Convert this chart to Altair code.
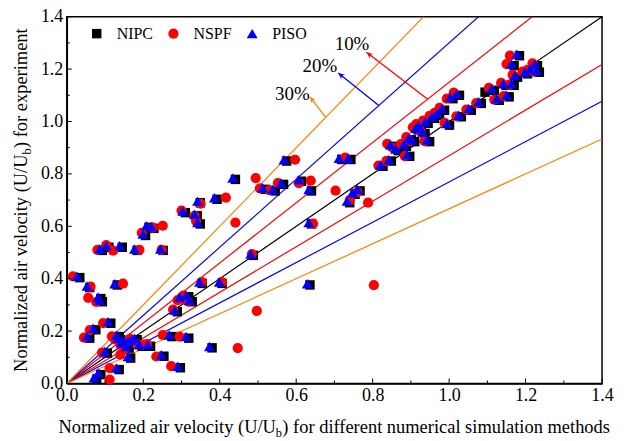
import math
import altair as alt
import pandas as pd

W, H = 537, 368
FONT = "Liberation Serif"

# ---------------- data ----------------
series_names = ["NIPC", "NSPF", "PISO"]
series_colors = ["#000000", "#FF0000", "#0000FF"]
series_shapes = ["square", "circle", "triangle-up"]
series_sizes = [90, 120, 150]

piso_x = [0.027, 0.053, 0.082, 0.086, 0.125, 0.086, 0.103, 0.138, 0.177, 0.199,
          0.208, 0.221, 0.245, 0.303, 0.334, 0.342, 0.342, 0.386, 0.434, 0.512,
          0.538, 0.560, 0.568, 0.607, 0.633, 0.712, 0.736, 0.733, 0.747, 0.760,
          0.347, 0.399, 0.295, 0.312, 0.321, 0.282, 0.312, 0.268, 0.247, 0.290,
          0.212, 0.373, 0.481, 0.629, 0.633, 0.053, 0.069, 0.108, 0.099, 0.130,
          0.071, 0.082, 0.134, 0.143, 0.156, 0.169, 0.177, 0.160, 0.130, 0.190,
          0.147, 0.160, 0.820, 0.842, 0.846, 0.881, 0.890, 0.903, 0.942, 0.912,
          0.920, 0.938, 0.955, 0.968, 0.981, 0.994, 1.003, 1.020, 1.025, 1.051,
          1.077, 1.111, 1.124, 1.150, 1.142, 1.163, 1.172, 1.198, 1.211, 1.229,
          1.224, 1.163, 1.177, 0.894, 0.860, 0.930]
piso_y = [0.409, 0.372, 0.330, 0.318, 0.381, 0.513, 0.526, 0.526, 0.513, 0.570,
          0.602, 0.598, 0.513, 0.658, 0.646, 0.614, 0.696, 0.709, 0.784, 0.747,
          0.740, 0.765, 0.854, 0.778, 0.740, 0.860, 0.860, 0.696, 0.728, 0.740,
          0.387, 0.387, 0.330, 0.337, 0.318, 0.280, 0.179, 0.185, 0.110, 0.066,
          0.148, 0.141, 0.494, 0.381, 0.614, 0.179, 0.211, 0.236, 0.122, 0.059,
          0.022, 0.040, 0.173, 0.154, 0.141, 0.166, 0.173, 0.103, 0.185, 0.148,
          0.166, 0.160, 0.834, 0.854, 0.911, 0.911, 0.873, 0.929, 0.929, 0.974,
          0.986, 0.999, 1.018, 1.030, 1.049, 0.992, 1.093, 1.106, 1.024, 1.049,
          1.075, 1.125, 1.087, 1.100, 1.144, 1.144, 1.175, 1.188, 1.200, 1.194,
          1.219, 1.219, 1.257, 0.936, 0.895, 0.960]

nipc_x = [0.034, 0.060, 0.089, 0.093, 0.132, 0.093, 0.110, 0.145, 0.184, 0.206,
          0.215, 0.228, 0.252, 0.310, 0.341, 0.349, 0.349, 0.393, 0.441, 0.519,
          0.545, 0.567, 0.575, 0.614, 0.640, 0.719, 0.743, 0.740, 0.754, 0.767,
          0.354, 0.406, 0.302, 0.319, 0.328, 0.289, 0.319, 0.275, 0.254, 0.297,
          0.219, 0.380, 0.488, 0.636, 0.640, 0.060, 0.076, 0.115, 0.106, 0.137,
          0.078, 0.089, 0.141, 0.150, 0.163, 0.176, 0.184, 0.167, 0.137, 0.197,
          0.154, 0.167, 0.827, 0.849, 0.853, 0.888, 0.897, 0.910, 0.949, 0.919,
          0.927, 0.945, 0.962, 0.975, 0.988, 1.001, 1.010, 1.027, 1.032, 1.058,
          1.084, 1.118, 1.131, 1.157, 1.149, 1.170, 1.179, 1.205, 1.218, 1.236,
          1.231, 1.170, 1.184, 0.901, 0.867, 0.937, 1.094]
nipc_y = [0.404, 0.366, 0.324, 0.312, 0.376, 0.508, 0.520, 0.520, 0.508, 0.565,
          0.596, 0.592, 0.508, 0.652, 0.640, 0.609, 0.690, 0.703, 0.779, 0.741,
          0.735, 0.760, 0.849, 0.772, 0.735, 0.855, 0.855, 0.690, 0.722, 0.735,
          0.382, 0.382, 0.324, 0.331, 0.312, 0.274, 0.173, 0.179, 0.104, 0.060,
          0.142, 0.136, 0.489, 0.376, 0.609, 0.173, 0.205, 0.230, 0.116, 0.053,
          0.016, 0.034, 0.167, 0.148, 0.135, 0.160, 0.167, 0.097, 0.179, 0.142,
          0.160, 0.154, 0.829, 0.849, 0.905, 0.905, 0.867, 0.923, 0.923, 0.968,
          0.980, 0.993, 1.012, 1.024, 1.043, 0.986, 1.087, 1.100, 1.018, 1.043,
          1.069, 1.119, 1.081, 1.094, 1.138, 1.138, 1.169, 1.182, 1.194, 1.188,
          1.213, 1.213, 1.251, 0.930, 0.889, 0.954, 1.112]

nspf_x = [0.016, 0.062, 0.056, 0.077, 0.147, 0.080, 0.103, 0.121, 0.190, 0.196,
          0.225, 0.251, 0.248, 0.300, 0.334, 0.338, 0.350, 0.416, 0.494, 0.505,
          0.530, 0.552, 0.597, 0.607, 0.638, 0.703, 0.728, 0.740, 0.760, 0.788,
          0.353, 0.405, 0.290, 0.305, 0.316, 0.278, 0.295, 0.251, 0.234, 0.273,
          0.199, 0.447, 0.484, 0.497, 0.441, 0.644, 0.803, 0.112, 0.045, 0.060,
          0.095, 0.092, 0.112, 0.126, 0.140, 0.150, 0.165, 0.118, 0.183, 0.140,
          0.210, 0.815, 0.836, 0.838, 0.874, 0.884, 0.897, 0.936, 0.905, 0.914,
          0.932, 0.949, 0.962, 0.975, 0.988, 0.994, 1.012, 1.019, 1.045, 1.071,
          1.104, 1.118, 1.143, 1.136, 1.157, 1.166, 1.192, 1.205, 1.222, 1.218,
          1.150, 1.159, 0.888, 0.855, 0.925]
nspf_y = [0.409, 0.370, 0.327, 0.311, 0.381, 0.510, 0.528, 0.507, 0.510, 0.575,
          0.595, 0.602, 0.510, 0.660, 0.640, 0.620, 0.686, 0.709, 0.784, 0.745,
          0.738, 0.765, 0.854, 0.765, 0.774, 0.736, 0.862, 0.700, 0.730, 0.690,
          0.387, 0.387, 0.318, 0.335, 0.313, 0.282, 0.179, 0.185, 0.103, 0.066,
          0.148, 0.135, 0.494, 0.277, 0.614, 0.610, 0.375, 0.015, 0.175, 0.204,
          0.230, 0.118, 0.059, 0.168, 0.150, 0.130, 0.170, 0.180, 0.150, 0.110,
          0.150, 0.832, 0.850, 0.915, 0.914, 0.868, 0.925, 0.925, 0.978, 0.990,
          1.003, 1.021, 1.033, 1.052, 0.995, 1.087, 1.110, 1.020, 1.045, 1.070,
          1.128, 1.083, 1.097, 1.147, 1.140, 1.178, 1.190, 1.197, 1.190, 1.222,
          1.219, 1.251, 0.940, 0.898, 0.963]

# reference lines y = k x
line_slopes = [1.0, 1.15, 1 / 1.15, 1.3, 1 / 1.3, 1.5, 1 / 1.5]
line_colors = ["#000000", "#FF0000", "#FF0000", "#0000FF", "#0000FF", "#FF8000", "#FF8000"]

# arrows (start on the upper line, end near the label)
arrow_x0 = [0.944, 0.816, 0.677]
arrow_y0 = [1.085, 1.061, 1.016]
arrow_x1 = [0.784, 0.710, 0.636]
arrow_y1 = [1.264, 1.185, 1.094]
arrow_colors = ["#FF0000", "#0000FF", "#FF8000"]

label_text = ["10%", "20%", "30%"]
label_x = [0.746, 0.662, 0.590]
label_y = [1.296, 1.212, 1.104]

major_ticks = [0.0, 0.2, 0.4, 0.6, 0.8, 1.0, 1.2, 1.4]
minor_ticks = [0.1, 0.3, 0.5, 0.7, 0.9, 1.1, 1.3]

# axis titles (with subscript b)
xt_before = "Normalized air velocity (U/U"
xt_after = ") for different numerical simulation methods"
yt_before = "Normalized air velocity (U/U"
yt_after = ") for experiment"
sub_text = "b"

# ---------------- build ----------------
xs = alt.Scale(domain=[0, 1.4], nice=False, zero=False)
ys = alt.Scale(domain=[0, 1.4], nice=False, zero=False)

x_axis = alt.Axis(values=major_ticks, format=".1f", ticks=False, labelPadding=3,
                  labelFlush=False, title=None)
y_axis = alt.Axis(values=major_ticks, format=".1f", ticks=False, labelPadding=4,
                  labelFlush=False, title=None)


def X(field="x"):
    return alt.X(f"{field}:Q", scale=xs, axis=x_axis)


def Y(field="y"):
    return alt.Y(f"{field}:Q", scale=ys, axis=y_axis)


rows = []
for name, xx, yy in [("NIPC", nipc_x, nipc_y), ("NSPF", nspf_x, nspf_y), ("PISO", piso_x, piso_y)]:
    for a, b in zip(xx, yy):
        rows.append({"x": a, "y": b, "series": name})
pts = pd.DataFrame(rows)

layers = []

# reference lines
for k, c in zip(line_slopes, line_colors):
    ldf = pd.DataFrame({"x": [0.0, 1.4], "y": [0.0, 1.4 * k]})
    layers.append(
        alt.Chart(ldf).mark_line(color=c, strokeWidth=1.2, clip=True).encode(x=X(), y=Y())
    )

# scatter points
leg = alt.Legend(title=None, orient="none", legendX=22, legendY=9, direction="horizontal")
points = alt.Chart(pts).transform_calculate(
    order="datum.series == 'NIPC' ? 0 : (datum.series == 'NSPF' ? 1 : 2)"
).mark_point(filled=True, opacity=1, strokeWidth=0).encode(
    x=X(), y=Y(),
    color=alt.Color("series:N", scale=alt.Scale(domain=series_names, range=series_colors), legend=leg),
    shape=alt.Shape("series:N", scale=alt.Scale(domain=series_names, range=series_shapes), legend=leg),
    size=alt.Size("series:N", scale=alt.Scale(domain=series_names, range=series_sizes), legend=leg),
    order=alt.Order("order:Q"),
)
layers.append(points)

# arrows
arrow_path = "M0,0L-0.9,2L0,1.4L0.9,2Z"
for x0, y0, x1, y1, c in zip(arrow_x0, arrow_y0, arrow_x1, arrow_y1, arrow_colors):
    seg = pd.DataFrame({"x": [x0], "y": [y0], "x2": [x1], "y2": [y1]})
    layers.append(
        alt.Chart(seg).mark_rule(color=c, strokeWidth=1.3).encode(
            x=X(), y=Y(), x2="x2:Q", y2="y2:Q")
    )
    dxp = (x1 - x0) * W / 1.4
    dyp = (y1 - y0) * H / 1.4
    ang = math.degrees(math.atan2(dxp, dyp)) % 360
    head = pd.DataFrame({"x": [x1], "y": [y1]})
    layers.append(
        alt.Chart(head).mark_point(shape=arrow_path, filled=True, size=40, angle=ang,
                                   color=c, opacity=1, strokeWidth=0).encode(x=X(), y=Y())
    )

lab = pd.DataFrame({"x": label_x, "y": label_y, "t": label_text})
layers.append(
    alt.Chart(lab).mark_text(font=FONT, fontSize=19, color="black").encode(
        x=X(), y=Y(), text="t:N")
)

# inner ticks
for vals, ln in [(major_ticks, 5), (minor_ticks, 3)]:
    tdf = pd.DataFrame({"x": vals, "y": vals})
    layers.append(
        alt.Chart(tdf).mark_rule(color="black", strokeWidth=1).encode(
            x=X(), y=alt.value(H), y2=alt.value(H - ln))
    )
    layers.append(
        alt.Chart(tdf).mark_rule(color="black", strokeWidth=1).encode(
            y=Y(), x=alt.value(0), x2=alt.value(ln))
    )

# axis titles built from text pieces so that "b" can be a subscript
TFS = 18.5
SFS = 12.5
SUBW = 6.5            # width of the subscript glyph
XT_W1, XT_W3 = 218.0, 329.0
YT_W1, YT_W3 = 218.0, 120.0
x_anchor = W / 2 - (XT_W1 + SUBW + XT_W3) / 2 + XT_W1
y_anchor = H / 2 + (YT_W1 + SUBW + YT_W3) / 2 - YT_W1
x_base = H + 50
y_base = -40


def piece(text, xpos, ypos, size, align, angle=0, dy=0):
    d = pd.DataFrame({"t": [text]})
    kw = dict(font=FONT, fontSize=size, color="black", align=align, baseline="alphabetic")
    if angle:
        kw["angle"] = angle
    if dy:
        kw["dy"] = dy
    return alt.Chart(d).mark_text(**kw).encode(
        text="t:N", x=alt.value(xpos), y=alt.value(ypos))


layers += [
    piece(xt_before, x_anchor, x_base, TFS, "right"),
    piece(sub_text, x_anchor, x_base, SFS, "left", dy=4),
    piece(xt_after, x_anchor + SUBW, x_base, TFS, "left"),
    piece(yt_before, y_base, y_anchor, TFS, "right", angle=270),
    piece(sub_text, y_base, y_anchor, SFS, "left", angle=270, dy=4),
    piece(yt_after, y_base, y_anchor - SUBW, TFS, "left", angle=270),
]

chart = alt.layer(*layers).properties(
    width=W, height=H,
    autosize=alt.AutoSizeParams(type="none"),
    padding={"left": 59, "top": 8, "right": 14, "bottom": 56},
).configure_view(
    stroke="black", strokeWidth=1.5
).configure_axis(
    domainColor="black", domainWidth=1.5, grid=False,
    labelFont=FONT, labelFontSize=18, labelColor="black",
).configure_legend(
    labelFont=FONT, labelFontSize=16, labelColor="black", padding=0,
    columnPadding=12, labelOffset=12, symbolStrokeWidth=0,
)

chart.save("out.html", embed_options={"renderer": "svg", "actions": False})
